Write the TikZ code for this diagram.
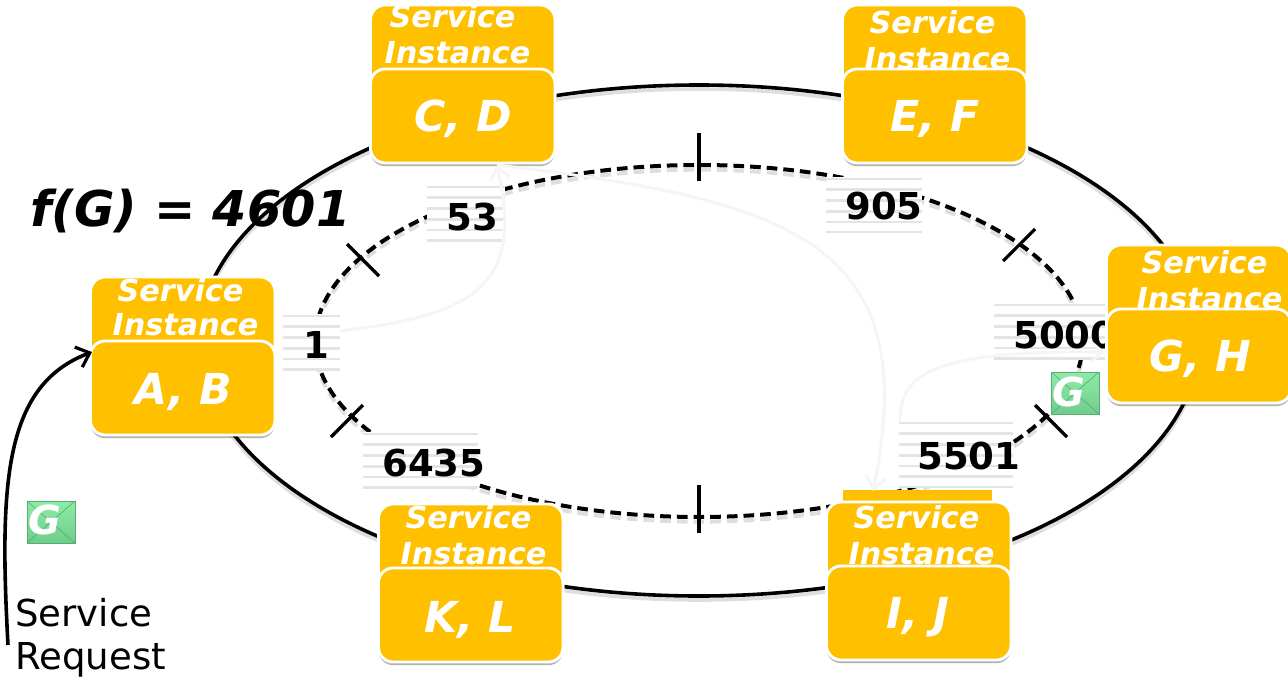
\documentclass[tikz,border=0pt]{standalone}
\usepackage{fontspec}
\setmainfont{DejaVu Sans}
\usetikzlibrary{arrows.meta,shadows}
\def\u{0.75pt}
\definecolor{amber}{HTML}{FFC000}
\definecolor{stripe}{HTML}{E4E4E4}
\definecolor{faint}{HTML}{F5F5F5}
\definecolor{envtop}{HTML}{8DECA6}
\definecolor{envbot}{HTML}{70CC8C}
\definecolor{envline}{HTML}{56AE74}
\tikzset{
  softshadow/.style={drop shadow={shadow xshift=0pt,shadow yshift=-2.4pt,opacity=.3,fill=black}},
  panel/.style={draw=white,line width=2.2pt,fill=amber,rounded corners=11pt,inner sep=0pt,outer sep=0pt,anchor=north west,minimum width=184.5*\u,softshadow},
  captxt/.style={font=\fontsize{22.7pt}{24pt}\selectfont\bfseries\itshape,text=white,anchor=base,inner sep=0pt},
  pairtxt/.style={font=\fontsize{32pt}{34pt}\selectfont\bfseries\itshape,text=white,anchor=base,inner sep=0pt},
  numtxt/.style={font=\fontsize{27.8pt}{30pt}\selectfont\bfseries,text=black,anchor=base west,inner sep=0pt},
  ring/.style={draw=black,line width=2.7pt,preaction={draw=black,draw opacity=.13,line width=2.7pt,transform canvas={yshift=-3pt}}},
  dashring/.style={draw=black,line width=3pt,dash pattern=on 8pt off 4.5pt,preaction={draw=black,draw opacity=.13,line width=3pt,dash pattern=on 8pt off 4.5pt,transform canvas={yshift=-3.5pt}}},
  tick/.style={draw=black,line width=2.4pt},
  stripebox/.style={fill=white,draw=none,inner sep=0pt,outer sep=0pt,anchor=north west,
    path picture={\foreach \k in {0,...,7}{
      \draw[stripe,line width=2pt]
        ([yshift=-1.5pt-\k*8.05pt]path picture bounding box.north west) --
        ([yshift=-1.5pt-\k*8.05pt]path picture bounding box.north east);}}},
  faintarc/.style={draw=faint,line width=2.2pt},
  faintarrow/.style={faintarc,-{Straight Barb[length=9pt,width=15pt,line width=2.2pt]}},
  envelope/.style={draw=envline,line width=.6pt,top color=envtop,bottom color=envbot,
    inner sep=0pt,outer sep=0pt,anchor=north west,minimum width=48*\u,minimum height=42*\u,
    path picture={
      \draw[envline,line width=.5pt] (path picture bounding box.north west)--(path picture bounding box.center)--(path picture bounding box.north east);
      \draw[envline,line width=.5pt] (path picture bounding box.south west)--(path picture bounding box.center)--(path picture bounding box.south east);}},
  envtxt/.style={font=\fontsize{30pt}{31pt}\selectfont\bfseries\itshape,text=white,anchor=base,inner sep=0pt},
  titletxt/.style={font=\fontsize{37pt}{40pt}\selectfont\bfseries\itshape,text=black,anchor=base west,inner sep=0pt},
  plaintxt/.style={font=\fontsize{27.8pt}{30pt}\selectfont,text=black,anchor=base west,inner sep=0pt},
  reqarrow/.style={draw=black,line width=2.7pt,-{Straight Barb[length=9pt,width=16pt,line width=2.4pt]}},
}
% name, left, back top, front top, Service dx, Service dy, Instance dx, Instance dy
\newcommand\svcbox[8]{%
  \node[panel,minimum height=(#4-#3+40)*\u] (#1back) at (#2,#3) {};
  \node[captxt] (#1svc) at (#2+#5,#3+#6) {Service};
  \node[captxt] (#1ins) at (#2+#7,#3+#8) {Instance};
  \node[panel,minimum height=94*\u] (#1) at (#2,#4) {};}
\begin{document}
\begin{tikzpicture}[x=0.75pt,y=-0.75pt]
\useasboundingbox (0,0) rectangle (1288,678);
\clip (0,0) rectangle (1288,678);
% rings
\path[ring] (699,340.5) ellipse [x radius=500,y radius=255.5];
\path[dashring] (699,341) ellipse [x radius=384,y radius=176];
% ticks
\coordinate (t1a) at (699,133); \coordinate (t1b) at (699,181);
\coordinate (t2a) at (699,485); \coordinate (t2b) at (699,533);
\coordinate (t3a) at (347,244); \coordinate (t3b) at (379,276);
\coordinate (t4a) at (1003,261); \coordinate (t4b) at (1035,229);
\coordinate (t5a) at (331,437); \coordinate (t5b) at (363,405);
\coordinate (t6a) at (1035,405); \coordinate (t6b) at (1067,437);
\foreach \t in {1,...,6}{\draw[tick] (t\t a) -- (t\t b);}
% striped label backgrounds
\node[stripebox,minimum width=78*\u,minimum height=57*\u] (s53) at (427,185) {};
\node[stripebox,minimum width=96*\u,minimum height=55*\u] (s905) at (826,177) {};
\node[stripebox,minimum width=57*\u,minimum height=57*\u] (s1) at (283,314) {};
\node[stripebox,minimum width=115*\u,minimum height=57*\u] (s6435) at (363,432) {};
\node[stripebox,minimum width=114*\u,minimum height=66*\u] (s5501) at (899,421) {};
\node[stripebox,minimum width=113*\u,minimum height=56*\u] (s5000) at (994,303) {};
% numbers
\node[numtxt] (n53) at (446,230) {53};
\node[numtxt] (n905) at (845,219) {905};
\node[numtxt] (n1) at (303,358) {1};
\node[numtxt] (n6435) at (382,476) {6435};
\node[numtxt] (n5501) at (917,469) {5501};
\node[numtxt] (n5000) at (1013,348) {5000};
% title
\node[titletxt] (title) at (30,226) {f(G) = 4601};
% envelopes
\node[envelope] (env1) at (1051,372) {};
\node[envtxt] (env1g) at (1069,406) {G};
\node[envelope] (env2) at (27,501) {};
\node[envtxt] (env2g) at (45,534) {G};
% service boxes
\coordinate (strip) at (843,490);
\fill[amber] (strip) rectangle ++(149,16);
\svcbox{ab}{90.5}{277}{341}{90}{24}{95}{58}
\svcbox{cd}{370.5}{5}{69}{82}{22}{87}{58}
\svcbox{ef}{842.5}{5}{69}{90}{28}{95}{64}
\svcbox{gh}{1106.5}{245}{309}{98}{28}{103}{64}
\svcbox{kl}{378.5}{504}{568}{90}{24}{95}{60}
\svcbox{ij}{826.5}{502}{566}{90}{26}{95}{62}
\node[pairtxt] (abt) at (183,404) {A, B};
\node[pairtxt] (cdt) at (463,131) {C, D};
\node[pairtxt] (eft) at (935,131) {E, F};
\node[pairtxt] (ght) at (1200,371) {G, H};
\node[pairtxt] (klt) at (470,632) {K, L};
\node[pairtxt] (ijt) at (918,628) {I, J};
% faint routing arcs
\coordinate (f1) at (340,331);
\coordinate (f2) at (497,165);
\coordinate (f3) at (900,421);
\draw[faintarrow] (f1) .. controls (470,315) and (525,290) .. (f2);
\draw[faintarrow] (f2) .. controls (790,200) and (925,240) .. (873,491);
\draw[faintarrow] (f3) .. controls (900,375) and (930,350) .. (1105,352);
% request arrow
\coordinate (reqstart) at (8,645);
\coordinate (reqend) at (92,352);
\draw[reqarrow] (reqstart) .. controls (-1,480) and (5,385) .. (reqend);
\node[plaintxt] (req1) at (15,626) {Service};
\node[plaintxt] (req2) at (15,669) {Request};
\end{tikzpicture}
\end{document}
